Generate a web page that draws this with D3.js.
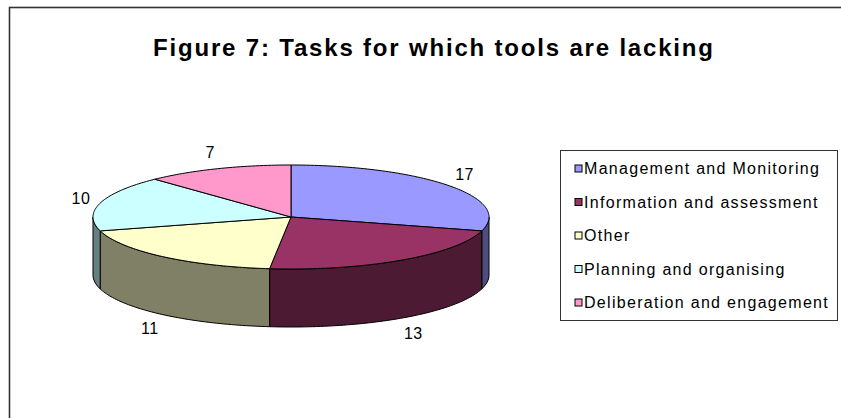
<!DOCTYPE html>
<html>
<head>
<meta charset="utf-8">
<script src="https://cdnjs.cloudflare.com/ajax/libs/d3/7.8.5/d3.min.js"></script>
<style>
  body { margin: 0; background: #fff; }
  text { font-family: "Liberation Sans", Arial, sans-serif; fill: #000; }
</style>
</head>
<body>
<svg id="chart"></svg>
<script>
// data
var categories = ["Management and Monitoring", "Information and assessment", "Other",
  "Planning and organising", "Deliberation and engagement"];
var values = [17, 13, 11, 10, 7];
var colors = ["#9999FF", "#993366", "#FFFFCC", "#CCFFFF", "#FF99CC"];
var title = "Figure 7: Tasks for which tools are lacking";

var width = 841, height = 418;

var svg = d3.select("#chart")
  .attr("width", width)
  .attr("height", height);

// chart frame (runs off the page on right and bottom)
svg.append("rect")
  .attr("x", 9.5).attr("y", 7.5)
  .attr("width", 900).attr("height", 500)
  .attr("fill", "none")
  .attr("stroke", "#333")
  .attr("stroke-width", 1.6);

svg.append("text")
  .attr("x", 433).attr("y", 56)
  .attr("text-anchor", "middle")
  .attr("textLength", 560)
  .attr("lengthAdjust", "spacing")
  .style("font-size", "24px")
  .style("font-weight", "bold")
  .text(title);

// 3d pie geometry
var cx = 291, cy = 217, rx = 198, ry = 52, depth = 58;

function px(a, r) { return cx + (r || rx) * Math.sin(a); }
function py(a, r) { return cy - (r || ry) * Math.cos(a); }

function arcPts(a0, a1, dy) {
  var n = Math.max(2, Math.ceil(Math.abs(a1 - a0) / 0.02));
  var pts = [];
  for (var i = 0; i <= n; i++) {
    var a = a0 + (a1 - a0) * i / n;
    pts.push([px(a), py(a) + dy]);
  }
  return pts;
}

function topPath(d) {
  var pts = [[cx, cy]].concat(arcPts(d.startAngle, d.endAngle, 0));
  return "M" + pts.map(p => p.join(",")).join("L") + "Z";
}

function sidePath(d) {
  // only the front half of the rim is visible
  var a0 = Math.max(d.startAngle, Math.PI / 2);
  var a1 = Math.min(d.endAngle, 3 * Math.PI / 2);
  if (a1 <= a0) return null;
  var top = arcPts(a0, a1, 0);
  var bot = arcPts(a1, a0, depth);
  return "M" + top.concat(bot).map(p => p.join(",")).join("L") + "Z";
}

function darker(c) {
  var r = d3.rgb(c);
  return d3.rgb(r.r * 0.5, r.g * 0.5, r.b * 0.5).toString();
}

var pie = d3.pie().sort(null).value(d => d)
  .startAngle(0).endAngle(2 * Math.PI);
var arcs = pie(values);

var g = svg.append("g");

g.selectAll("path.side")
  .data(arcs.filter(d => sidePath(d)))
  .enter().append("path")
  .attr("class", "side")
  .attr("d", sidePath)
  .attr("fill", d => darker(colors[d.index]))
  .attr("stroke", "#000")
  .attr("stroke-width", 1)
  .attr("stroke-linejoin", "round");

g.selectAll("path.top")
  .data(arcs)
  .enter().append("path")
  .attr("class", "top")
  .attr("d", topPath)
  .attr("fill", d => colors[d.index])
  .attr("stroke", "#000")
  .attr("stroke-width", 1)
  .attr("stroke-linejoin", "round");

// value labels outside the rim
g.selectAll("text.val")
  .data(arcs)
  .enter().append("text")
  .attr("class", "val")
  .attr("x", d => px((d.startAngle + d.endAngle) / 2, rx + 20))
  .attr("y", d => {
    var a = (d.startAngle + d.endAngle) / 2;
    return py(a, ry + 18) + (Math.cos(a) < 0 ? depth : 0);
  })
  .attr("dy", "0.35em")
  .attr("text-anchor", "middle")
  .style("font-size", "16px")
  .style("letter-spacing", "0.5px")
  .text(d => d.value);

// legend
var lx = 560.5, ly = 150.5, lw = 277, lh = 170;
var legend = svg.append("g");
legend.append("rect")
  .attr("x", lx).attr("y", ly)
  .attr("width", lw).attr("height", lh)
  .attr("fill", "#fff")
  .attr("stroke", "#333")
  .attr("stroke-width", 1);

var rows = legend.selectAll("g.row")
  .data(categories)
  .enter().append("g")
  .attr("class", "row")
  .attr("transform", (d, i) => "translate(" + (lx + 14.5) + "," + (ly + 18 + i * 33.5) + ")");

rows.append("rect")
  .attr("x", 0).attr("y", -3.5)
  .attr("width", 7).attr("height", 7)
  .attr("fill", (d, i) => colors[i])
  .attr("stroke", "#000")
  .attr("stroke-width", 1);

rows.append("text")
  .attr("x", 9)
  .attr("y", 0)
  .attr("dy", "0.35em")
  .style("font-size", "16px")
  .style("letter-spacing", "1.3px")
  .text(d => d);
</script>
</body>
</html>
